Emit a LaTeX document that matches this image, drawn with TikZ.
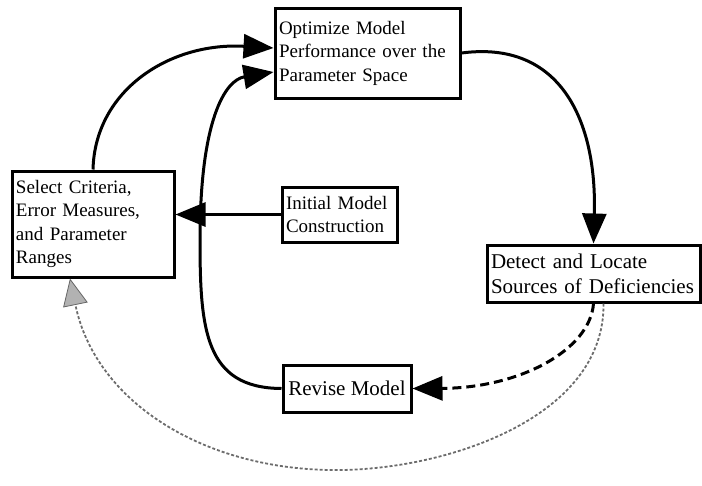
\documentclass[tikz,border=0pt]{standalone}
\usepackage{fontspec}
\setmainfont{Liberation Serif}
\usetikzlibrary{arrows.meta}
\begin{document}
\begin{tikzpicture}[x=1pt,y=-1pt,
  box/.style={draw=black, line width=3pt, fill=white, align=left, inner xsep=4pt, inner ysep=0pt,
    font=\fontsize{19}{23.5}\selectfont},
  conn/.style={line width=3pt, -{Triangle[length=30pt,width=24pt]}},
  grayconn/.style={draw=gray!85!black, line width=1.8pt, dash pattern=on 3pt off 2pt,
    -{Triangle[length=27pt,width=25pt,color=gray!80!black,fill=gray!60,line width=0.8pt]}}]
\useasboundingbox (0,0) rectangle (702,485);
\node[box, text width=154pt, minimum height=106pt] (sel) at (93,224) {Select Criteria,\\Error Measures,\\and Parameter\\Ranges};
\node[box, text width=177pt, minimum height=90pt] (opt) at (367.5,53) {Optimize Model\\Performance over the\\Parameter Space};
\node[box, text width=205pt, minimum height=57pt, font=\fontsize{21}{25}\selectfont] (det) at (593.5,273.5) {Detect and Locate\\Sources of Deficiencies};
\node[box, text width=107pt, minimum height=55pt] (ini) at (339.5,214.5) {Initial Model\\Construction};
\node[box, minimum width=128pt, minimum height=47pt, font=\fontsize{21}{25}\selectfont] (rev) at (347,388.5) {Revise Model};

\draw[conn] (sel.north) .. controls (95,90) and (170,42) .. ([yshift=5pt]opt.west);
\draw[conn] (rev.west) .. controls (205,388) and (200,330) .. (200,240)
  .. controls (200,120) and (225,80) .. ([yshift=-19pt]opt.west);
\draw[conn] (ini.west) -- (ini.west -| sel.east);
\draw[conn] (opt.east) .. controls (560,40) and (597,120) .. (det.north);
\draw[conn, dash pattern=on 9pt off 5pt] (det.south) .. controls (590,350) and (520,388) .. (rev.east);
\draw[grayconn] ([xshift=10pt]det.south) .. controls (605,420) and (440,472) .. (330,470)
  .. controls (200,468) and (95,400) .. ([xshift=-23pt]sel.south);
\end{tikzpicture}
\end{document}
